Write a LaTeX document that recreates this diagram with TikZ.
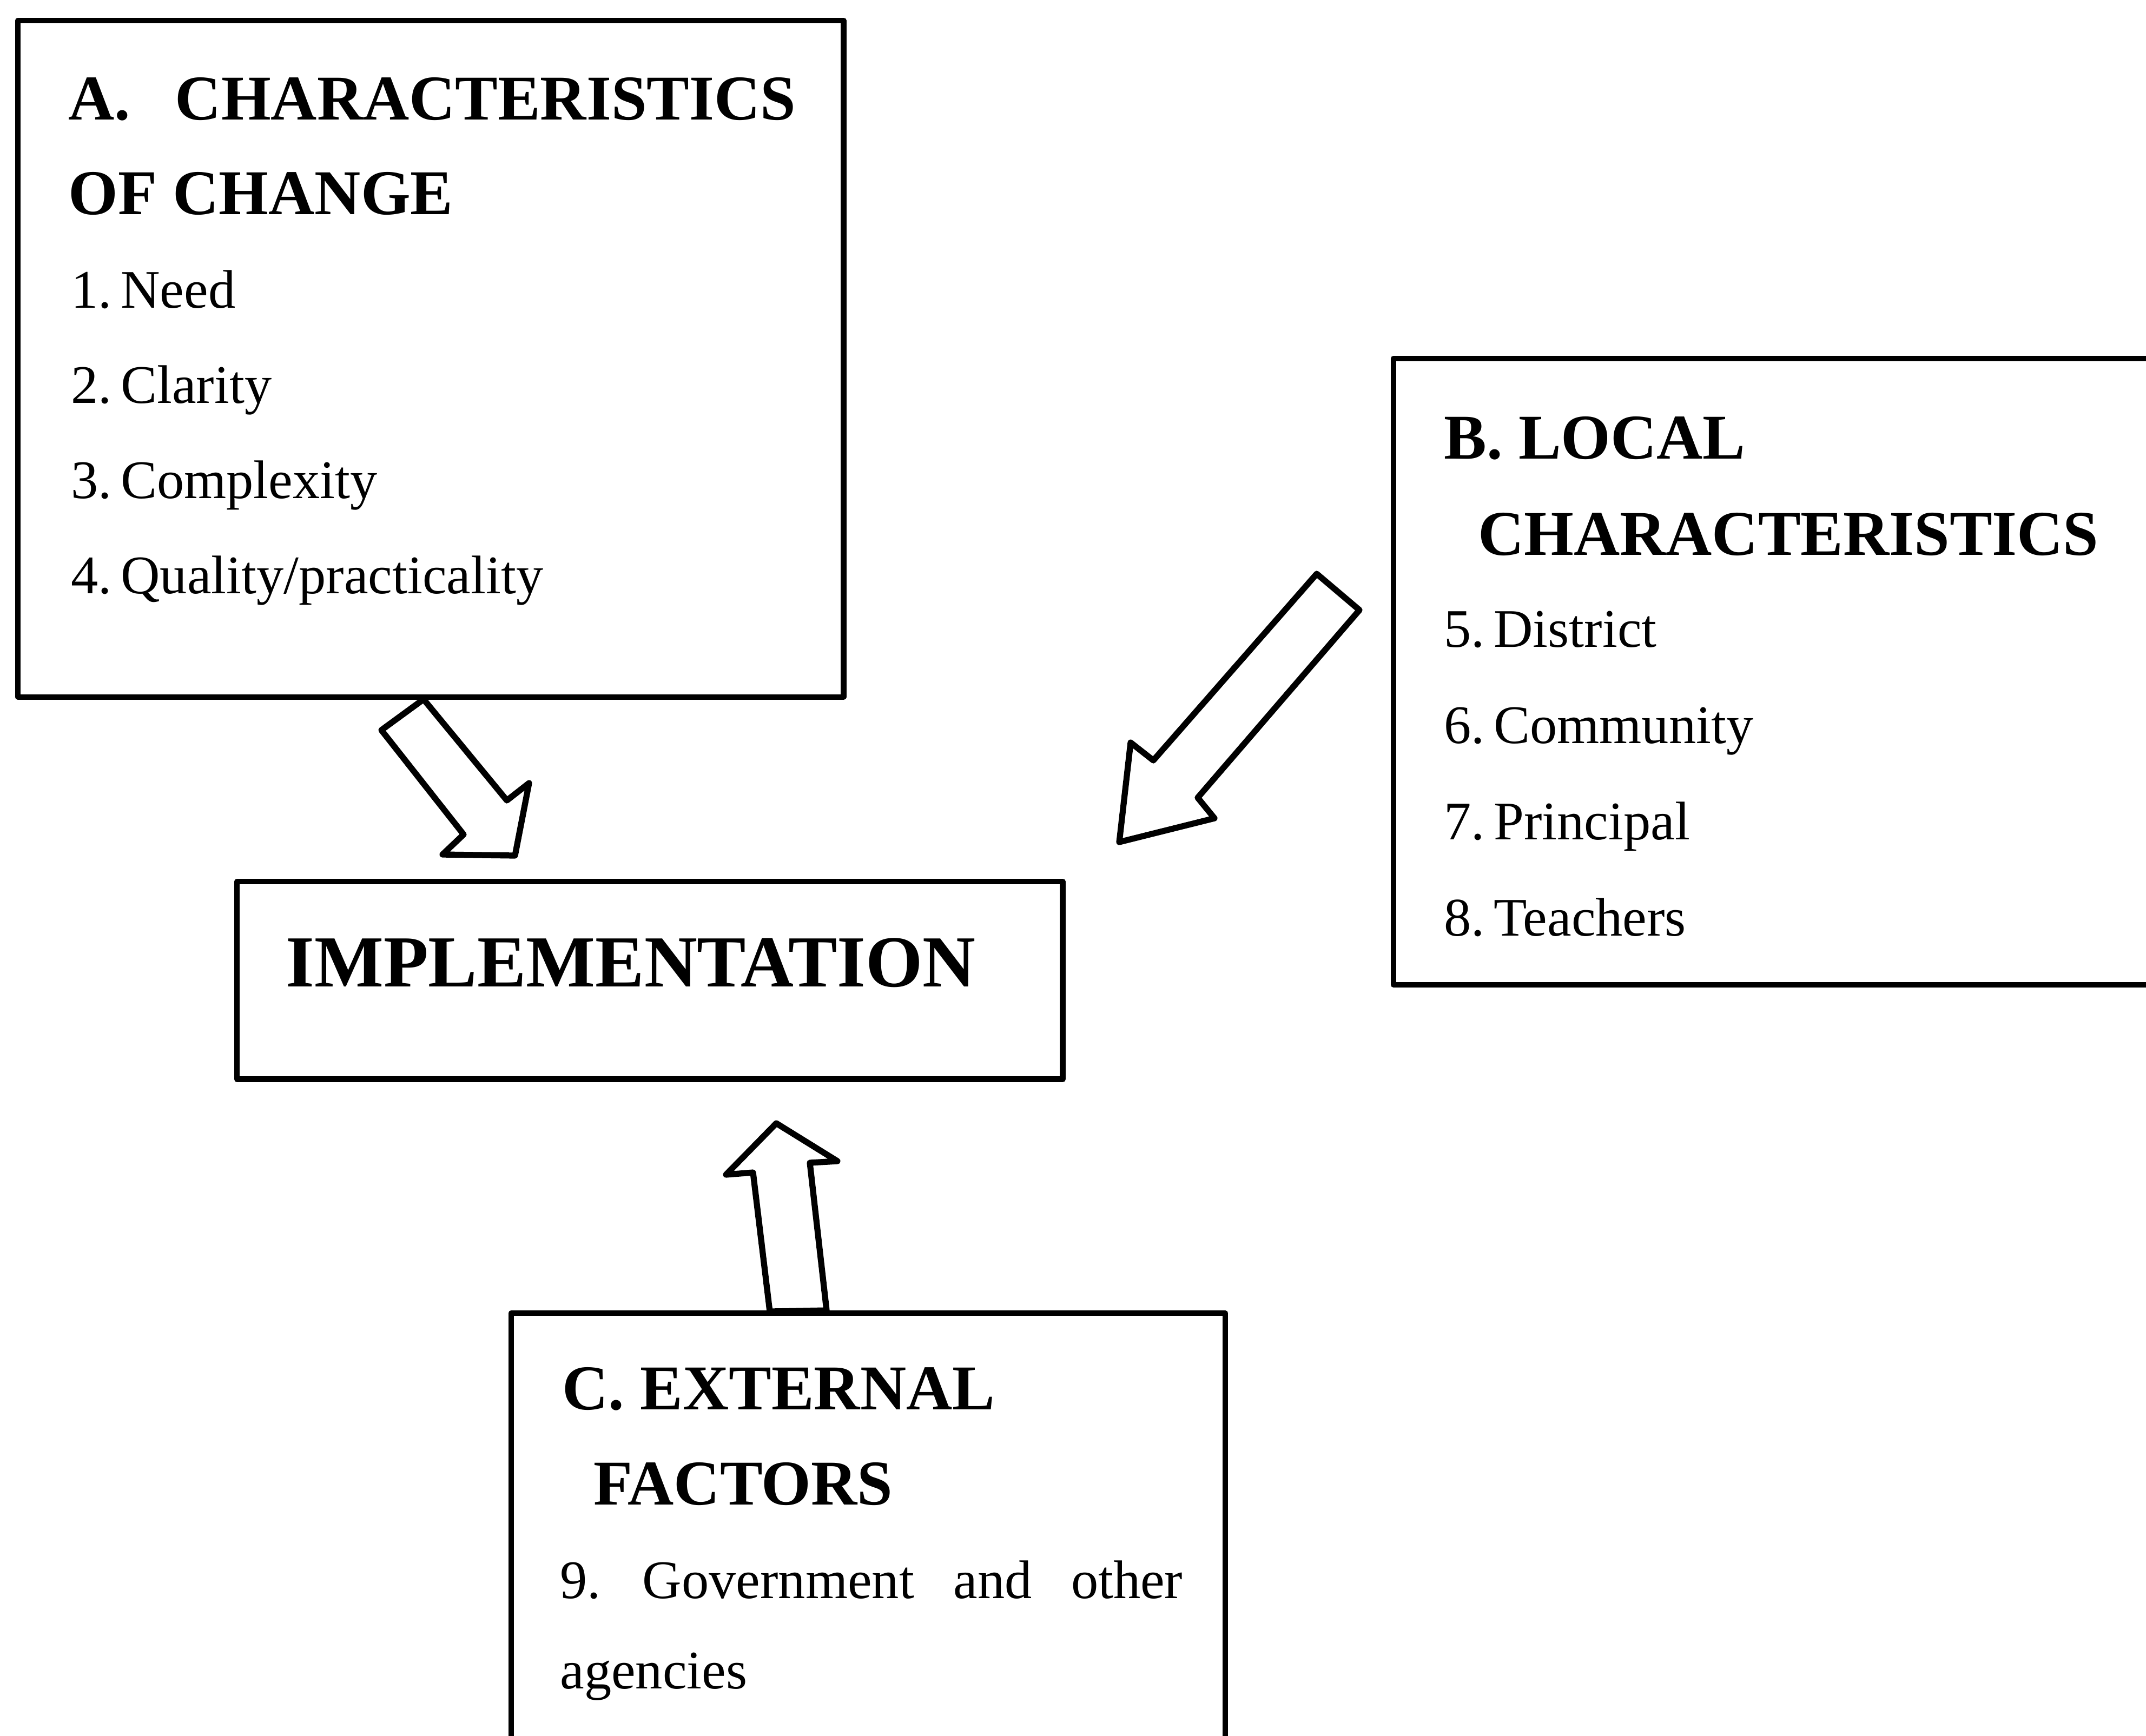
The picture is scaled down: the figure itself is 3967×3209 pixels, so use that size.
\documentclass[tikz,border=0pt]{standalone}
\usepackage{fontspec}
\setmainfont{Liberation Serif}
\tikzset{
	box/.style={draw, line width=1.5pt, inner sep=0pt, outer sep=0pt, anchor=north west},
	head/.style={anchor=base west, inner sep=0pt, font=\fontsize{16.8}{20}\selectfont\bfseries},
	item/.style={anchor=base west, inner sep=0pt, font=\fontsize{14.3}{17}\selectfont},
	fat/.style={draw, line width=1.6pt, fill=white}
}
\begin{document}
\begin{tikzpicture}[x=0.005cm, y=-0.005cm, line join=round, line cap=round]
	\clip (0,0) rectangle (3967,3209);
	% boxes
	\node[box, minimum width=7.64cm, minimum height=6.26cm] (boxA) at (33,38) {};
	\node[box, minimum width=7.12cm, minimum height=5.795cm] (boxB) at (2576,663) {};
	\node[box, minimum width=7.64cm, minimum height=1.83cm] (impl) at (438,1630) {};
	\node[box, minimum width=6.605cm, minimum height=4.16cm] (boxC) at (945,2428) {};
	% A
	\node[head] (tA1) at (125,221) {A.\hspace{11.8pt}CHARACTERISTICS};
	\node[head] (tA2) at (125,396) {OF CHANGE};
	\foreach \t [count=\i] in {Need, Clarity, Complexity, Quality/practicality}
		\node[item] (a\i) at (130,{569+(\i-1)*176}) {\i.\,\t};
	% B
	\node[head] (tB1) at (2668,848) {B. LOCAL};
	\node[head] (tB2) at (2731,1026) {CHARACTERISTICS};
	\foreach \t [count=\i from 5] in {District, Community, Principal, Teachers}
		\node[item] (b\i) at (2668,{1196+(\i-5)*178}) {\i.\,\t};
	% implementation
	\node[head, font=\fontsize{19.3}{22}\selectfont\bfseries] (tI) at (527,1824) {IMPLEMENTATION};
	% C
	\node[head] (tC1) at (1038,2606) {C. EXTERNAL};
	\node[head] (tC2) at (1096,2782) {FACTORS};
	\node[item] (c9) at (1034,2955) {\makebox[5.76cm][s]{9.\hspace{11pt}Government and other}};
	\node[item] (c9b) at (1034,3122) {agencies};
	% block arrows
	\draw[fat] (783,1293)--(937,1480)--(978,1448)--(952,1582)--(818,1580)--(857,1543)--(705,1350)--cycle;
	\draw[fat] (2434,1061)--(2513,1128)--(2214,1475)--(2245,1513)--(2069,1557)--(2090,1373)--(2132,1406)--cycle;
	\draw[fat] (1435,2077)--(1548,2147)--(1497,2150)--(1528,2423)--(1423,2425)--(1392,2168)--(1342,2172)--cycle;
\end{tikzpicture}
\end{document}
